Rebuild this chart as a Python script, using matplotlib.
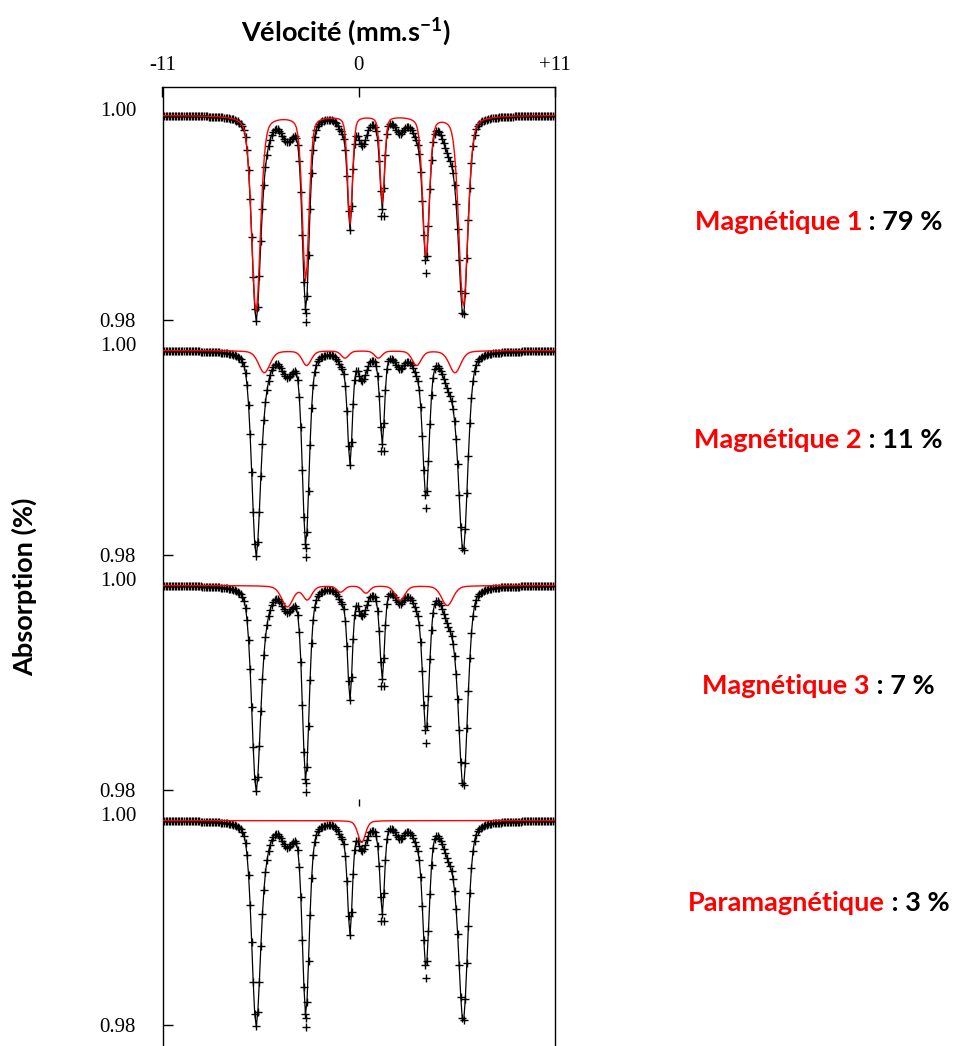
import numpy as np
import matplotlib
matplotlib.use('Agg')
import matplotlib.pyplot as plt

plt.rcParams['mathtext.fontset'] = 'custom'
plt.rcParams['mathtext.rm'] = 'Lato:bold'
plt.rcParams['mathtext.bf'] = 'Lato:bold'

# velocity channels (mm/s)
n_channels = 256
velocity = np.linspace(-11, 11, n_channels)
baseline = 0.9994
lorentz_share = 0.35   # pseudo-Voigt mixing of the line shape

# sub-spectra: line positions (mm/s), depths, half widths
mag1_pos = [-5.75, -2.965, -0.477, 1.337, 3.788, 5.883]
mag1_depth = [0.0186, 0.0156, 0.0102, 0.0082, 0.0134, 0.0181]
mag1_hwhm = [0.29, 0.22, 0.16, 0.15, 0.22, 0.30]

mag2_pos = [-5.285, -2.909, -0.758, 1.113, 3.265, 5.416]
mag2_depth = [0.0021, 0.0014, 0.0007, 0.0007, 0.0014, 0.0021]
mag2_hwhm = [0.38, 0.3, 0.25, 0.25, 0.3, 0.38]

mag3_pos = [-3.994, -2.872, -1.001, 0.421, 2.329, 4.985]
mag3_depth = [0.0020, 0.0013, 0.0006, 0.0007, 0.0014, 0.0019]
mag3_hwhm = [0.38, 0.3, 0.25, 0.25, 0.32, 0.38]

para_pos = [0.178]
para_depth = [0.0021]
para_hwhm = [0.25]

# counts sitting off the fit at the bottom of some lines
extra_v = [-2.965, -2.965, 1.263, 1.45, 3.79]
extra_abs = [0.9807, 0.97985, 0.9899, 0.9899, 0.9845]

names = ['Magnétique 1', 'Magnétique 2', 'Magnétique 3', 'Paramagnétique']
shares = [79, 11, 7, 3]


def line_sum(pos, depth, hwhm):
    dip = np.zeros_like(velocity)
    for p, d, w in zip(pos, depth, hwhm):
        u = ((velocity - p) / w) ** 2
        dip += d * (lorentz_share / (1 + u) + (1 - lorentz_share) * np.exp(-np.log(2) * u))
    return dip


dips = [line_sum(mag1_pos, mag1_depth, mag1_hwhm),
        line_sum(mag2_pos, mag2_depth, mag2_hwhm),
        line_sum(mag3_pos, mag3_depth, mag3_hwhm),
        line_sum(para_pos, para_depth, para_hwhm)]
fit = baseline - sum(dips)
counts = fit.copy()

# vertical shift of each stacked panel
offsets = [0.0, 0.0223, 0.04457, 0.06685]

W, H = 955, 1046
fig = plt.figure(figsize=(W / 100, H / 100), dpi=100)
ax = fig.add_axes([162.5 / W, 0, 392 / W, 1 - 87.3 / H])

for i in range(4):
    off = offsets[i]
    ax.plot(velocity, counts - off, '+', color='black', ms=6, mew=1.0, zorder=2)
    ax.plot(extra_v, np.array(extra_abs) - off, '+', color='black', ms=6, mew=1.0, zorder=2)
    ax.plot(velocity, fit - off, color='black', lw=0.9, zorder=3)
    ax.plot(velocity, baseline - dips[i] - off, color='red', lw=1.0, zorder=4)

# small tick left at the top of the last panel
ax.vlines(0, 1.00078 - offsets[3], 1.00145 - offsets[3], color='black', lw=1.0)

ax.set_xlim(-11, 11)
ax.set_ylim(1 - 937 / 10550, 1 + 21.7 / 10550)

# 1.00 labels without a visible mark, 0.98 with an inward mark
ax.set_yticks([1.00 - off for off in offsets], labels=['1.00'] * 4)
ax.set_yticks([0.98 - off for off in offsets], labels=['0.98'] * 4, minor=True)
ax.set_xticks([-11, 0, 11], labels=['-11', '0', '+11'])
ax.xaxis.set_ticks_position('top')
ax.tick_params(axis='x', direction='in', length=7, width=1, pad=9,
               labelsize=15, labelfontfamily='Liberation Serif')
ax.tick_params(axis='y', which='major', direction='in', length=0, pad=19,
               labelsize=15, labelfontfamily='Liberation Serif', right=False)
ax.tick_params(axis='y', which='minor', direction='in', length=7, width=1, pad=19,
               labelsize=15, labelfontfamily='Liberation Serif', right=False)
ax.spines['bottom'].set_visible(False)
for s in ['left', 'right', 'top']:
    ax.spines[s].set_linewidth(1.0)

fig.text(345.5 / W, 1 - 31.7 / H, r'Vélocité (mm.s$^{-1}$)', ha='center', va='center',
         fontsize=19.5, fontweight='bold', family='Lato')
fig.text(24 / W, 1 - 587 / H, 'Absorption (%)', rotation=90, ha='center', va='center',
         fontsize=19.5, fontweight='bold', family='Lato')

# right-hand labels: red name, black share
label_y = [222, 440, 686, 903]
renderer = fig.canvas.get_renderer()
for name, share, y in zip(names, shares, label_y):
    black_part = ' : %d %%' % share
    full = fig.text(818.5 / W, 1 - y / H, name + black_part, ha='center', va='center',
                    fontsize=19.5, fontweight='bold', family='Lato')
    bb = full.get_window_extent(renderer)
    full.remove()
    red = fig.text(bb.x0 / W, 1 - y / H, name, ha='left', va='center', color='red',
                   fontsize=19.5, fontweight='bold', family='Lato')
    rb = red.get_window_extent(renderer)
    fig.text(rb.x1 / W, 1 - y / H, black_part, ha='left', va='center', color='black',
             fontsize=19.5, fontweight='bold', family='Lato')

fig.savefig('out.png', dpi=100)
